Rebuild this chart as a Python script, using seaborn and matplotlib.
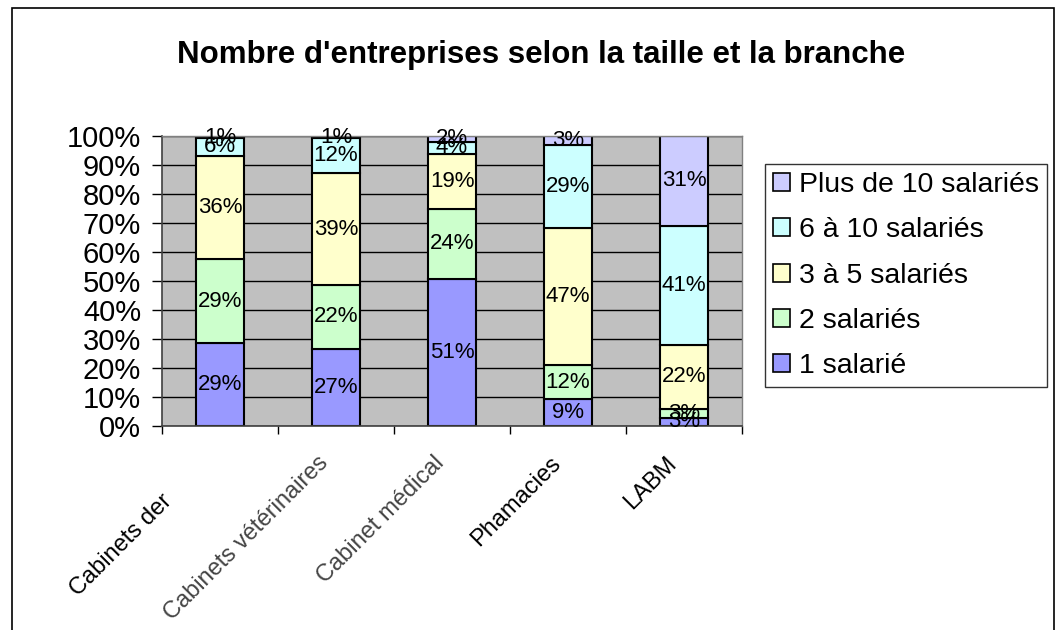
import matplotlib
matplotlib.use("Agg")
import matplotlib.pyplot as plt
import matplotlib.transforms as mtransforms
from matplotlib.patches import Patch, Rectangle
import seaborn as sns
import numpy as np

# Data (percent share of companies per size class)
branches = ["Cabinets der", "Cabinets vétérinaires", "Cabinet médical", "Phamacies", "LABM"]
sizes = ["1 salarié", "2 salariés", "3 à 5 salariés", "6 à 10 salariés", "Plus de 10 salariés"]
un_salarie = [28.6, 26.6, 50.7, 9.3, 2.8]
deux_salaries = [29.0, 22.0, 24.3, 11.7, 3.2]
trois_cinq = [35.6, 38.6, 18.8, 47.3, 21.8]
six_dix = [6.1, 12.0, 4.2, 28.7, 41.2]
plus_dix = [0.7, 0.8, 2.0, 3.0, 31.0]
colors = ["#9999FF", "#CCFFCC", "#FFFFCC", "#CCFFFF", "#CCCCFF"]

series = [un_salarie, deux_salaries, trois_cinq, six_dix, plus_dix]

sns.set_style("white")
plt.rcParams['font.family'] = ['Liberation Sans', 'DejaVu Sans']
plt.rcParams['text.color'] = 'black'
plt.rcParams['xtick.color'] = 'black'
plt.rcParams['ytick.color'] = 'black'

fig = plt.figure(figsize=(10.6, 6.3), dpi=100)
ax = fig.add_axes([162 / 1060, 1 - 426 / 630, (742 - 162) / 1060, 290 / 630])
ax.set_facecolor("#C0C0C0")

bottom = np.zeros(len(branches))
for vals, col in zip(series, colors):
    sns.barplot(x=branches, y=vals, bottom=bottom, color=col, width=0.42,
                edgecolor="black", linewidth=1.5, saturation=1, ax=ax)
    bottom = bottom + np.array(vals)

for cont, vals in zip(ax.containers, series):
    ax.bar_label(cont, labels=[f"{round(v)}%" for v in vals], label_type="center",
                 fontsize=16, color="black")

ax.set_ylim(0, 100)
ax.set_xlim(-0.5, len(branches) - 0.5)
ax.set_yticks(range(0, 101, 10))
ax.set_yticklabels([f"{t}%" for t in range(0, 101, 10)], fontsize=21)
ax.yaxis.grid(True, color="black", linewidth=1)
ax.set_axisbelow(True)
ax.tick_params(axis="y", direction="out", length=7, width=1, color="black", left=True, pad=8)

# x ticks between the categories, labels placed by hand
ax.set_xticks(np.arange(-0.5, len(branches), 1))
ax.set_xticklabels([])
ax.tick_params(axis="x", direction="out", length=6, width=1, color="black", bottom=True)
ax.set_xlabel("")
ax.set_ylabel("")

trans = mtransforms.blended_transform_factory(ax.transData, ax.transAxes)
for i, name in enumerate(branches):
    if i == 0:
        xx, yy = i - 0.51, -0.22
    else:
        xx, yy = i - 0.16, -0.09
    col = "black" if name in ("Cabinets der", "Phamacies", "LABM") else "#444444"
    ax.text(xx, yy, name, transform=trans, rotation=45, rotation_mode="anchor",
            ha="right", va="top", fontsize=17, color=col)

for side in ["left", "bottom"]:
    ax.spines[side].set_color("#404040")
    ax.spines[side].set_linewidth(1.2)
for side in ["top", "right"]:
    ax.spines[side].set_color("#808080")
    ax.spines[side].set_linewidth(1)

handles = [Patch(facecolor=c, edgecolor="black", linewidth=1.2, label=s)
           for s, c in zip(sizes, colors)][::-1]
leg = fig.legend(handles=handles, loc="upper left", bbox_to_anchor=(765 / 1060, 1 - 164 / 630),
                 fontsize=20.5, frameon=True, fancybox=False, edgecolor="black",
                 handlelength=0.6, handleheight=0.6, handletextpad=0.3,
                 labelspacing=0.68, borderpad=0.28, borderaxespad=0)
leg.get_frame().set_linewidth(1)

fig.text(541 / 1060, 1 - 55 / 630, "Nombre d'entreprises selon la taille et la branche",
         ha="center", va="center", fontsize=22.5, fontweight="bold", color="black")

# outer chart border
fig.patches.append(Rectangle((12 / 1060, -0.05), (1054 - 12) / 1060, 1.05 - 8 / 630,
                             transform=fig.transFigure, fill=False, edgecolor="black",
                             linewidth=1.2, clip_on=False))

plt.savefig("out.png", dpi=100)
plt.close()
